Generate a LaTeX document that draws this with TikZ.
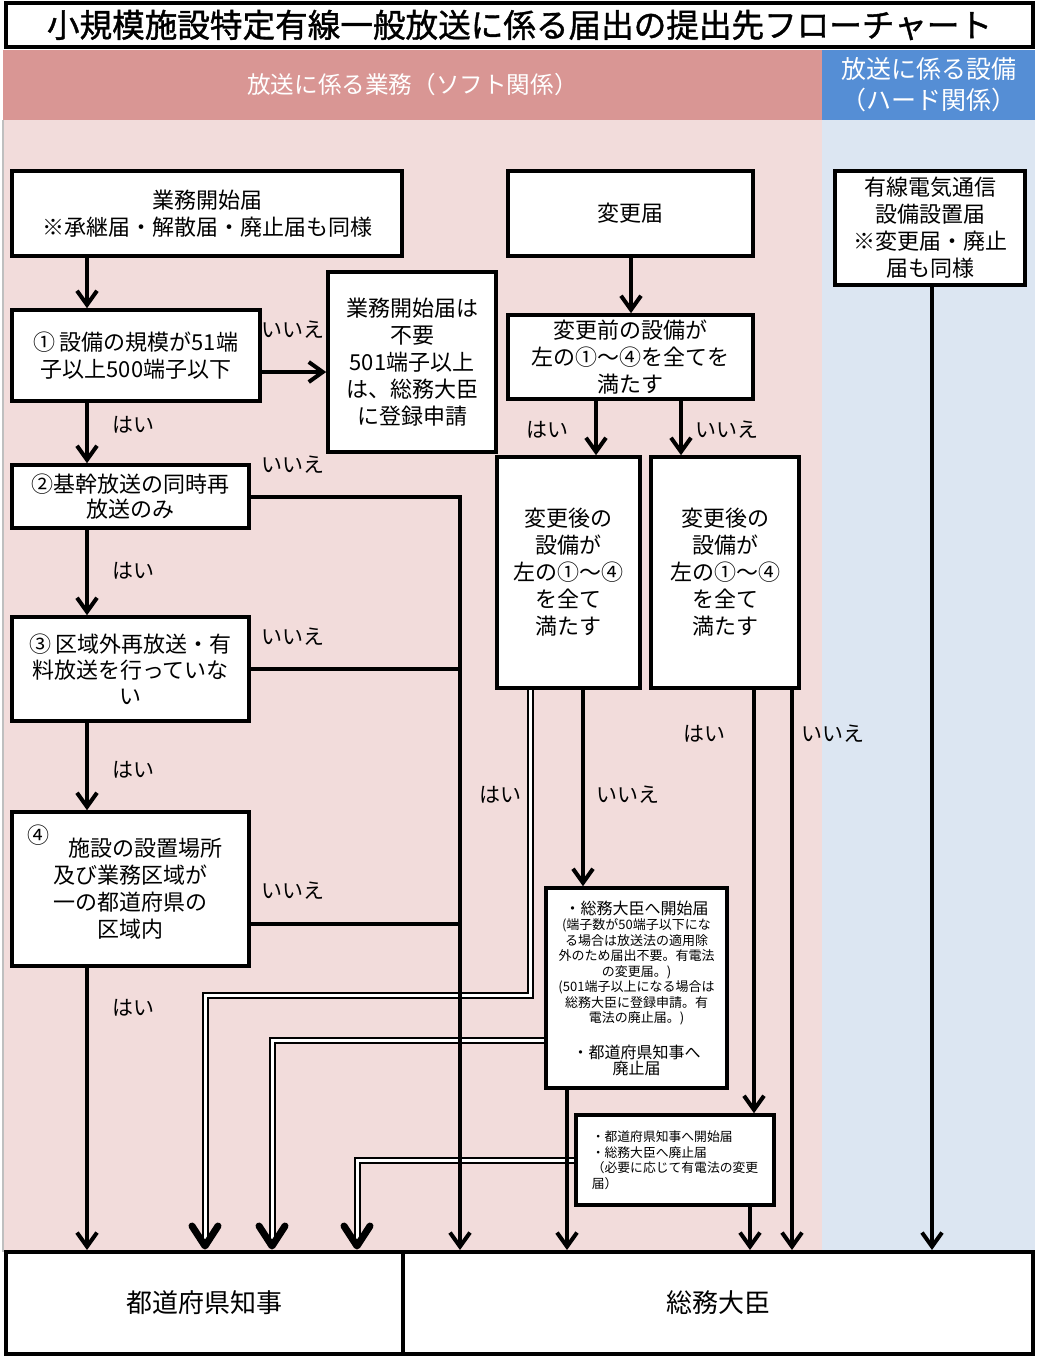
\documentclass[tikz,border=0pt]{standalone}
\usepackage{fontspec}
\setmainfont{Noto Sans CJK JP}
\newfontfamily\titlefont{Noto Sans CJK JP}[FakeBold=1.2]
\usetikzlibrary{arrows.meta,calc}
\definecolor{pinkhead}{HTML}{D99694}
\definecolor{pinkbg}{HTML}{F2DCDB}
\definecolor{bluehead}{HTML}{558ED5}
\definecolor{bluebg}{HTML}{DCE6F2}
\definecolor{edgegray}{HTML}{BFBFBF}
\tikzset{
  box/.style={draw, line width=1.8pt, fill=white, align=center, inner sep=0pt,
    font=\fontsize{11pt}{13.5pt}\selectfont},
  titlebox/.style={draw, line width=2.4pt, fill=white, inner sep=0pt,
    font=\titlefont\fontsize{16.3pt}{18pt}\selectfont},
  endbox/.style={draw, line width=2pt, fill=white, inner sep=0pt,
    font=\fontsize{13pt}{15pt}\selectfont},
  headp/.style={fill=pinkhead, inner sep=0pt, text=white, align=center,
    font=\fontsize{11.8pt}{13pt}\selectfont},
  headb/.style={fill=bluehead, inner sep=0pt, text=white, align=center,
    font=\fontsize{12.5pt}{15.5pt}\selectfont},
  conn/.style={line width=2pt},
  arr/.style={conn, -{Straight Barb[length=7pt,width=10pt,line width=2pt]}},
  dbl/.style={double=white, line width=1pt, double distance=1.5pt, line join=miter},
  bighead/.style={line width=3.5pt, line join=round, line cap=round},
  lbl/.style={inner sep=0pt, font=\fontsize{10.5pt}{12pt}\selectfont},
}
\begin{document}
\begin{tikzpicture}[x=0.5pt,y=-0.5pt]
\useasboundingbox (0,0) rectangle (1040,1360);
\fill[white] (0,0) rectangle (1040,1360);
% backgrounds
\fill[pinkbg] (3,120) rectangle (822,1252);
\fill[bluebg] (822,120) rectangle (1035,1252);
\draw[edgegray, line width=1pt] (3,120) -- (3,1252);
\node[headp, minimum width=409.5pt, minimum height=35pt] (hp) at (412.5,85) {放送に係る業務（ソフト関係）};
\node[headb, minimum width=106.5pt, minimum height=35pt] (hb) at (928.5,85) {放送に係る設備\\（ハード関係）};
\node[titlebox, minimum width=513.5pt, minimum height=22pt] (title) at (519.5,25) {小規模施設特定有線一般放送に係る届出の提出先フローチャート};

% boxes
\node[box, minimum width=195pt, minimum height=42.5pt] (A) at (207,213.5) {業務開始届\\※承継届・解散届・廃止届も同様};
\node[box, minimum width=122.5pt, minimum height=42.5pt] (B) at (630.5,213.5) {変更届};
\node[box, minimum width=95pt, minimum height=57pt] (C) at (930,228) {有線電気通信\\設備設置届\\※変更届・廃止\\届も同様};
\node[box, minimum width=124pt, minimum height=45.5pt] (Q1) at (136,355.5) {①\,設備の規模が51端\\子以上500端子以下};
\node[box, minimum width=84pt, minimum height=90pt] (N) at (412,362) {業務開始届は\\不要\\501端子以上\\は、総務大臣\\に登録申請};
\node[box, minimum width=118.5pt, minimum height=31.5pt, font=\fontsize{11pt}{12.5pt}\selectfont] (Q2) at (130.5,496.5) {②基幹放送の同時再\\放送のみ};
\node[box, minimum width=118.5pt, minimum height=52pt, font=\fontsize{11pt}{13pt}\selectfont] (Q3) at (130.5,669) {③\,区域外再放送・有\\料放送を行っていな\\い};
\node[box, minimum width=118.5pt, minimum height=77pt] (Q4) at (130.5,889) {\hspace*{15pt}施設の設置場所\\及び業務区域が\\一の都道府県の\\区域内};
\node[inner sep=0pt, font=\fontsize{11pt}{13pt}\selectfont] (q4num) at (38,835) {④};
\node[box, minimum width=122.5pt, minimum height=42pt] (D) at (630.5,357) {変更前の設備が\\左の①～④を全てを\\満たす};
\node[box, minimum width=71.5pt, minimum height=115.5pt] (E) at (568.5,572.5) {変更後の\\設備が\\左の①～④\\を全て\\満たす};
\node[box, minimum width=74pt, minimum height=115.5pt] (F) at (725,572.5) {変更後の\\設備が\\左の①～④\\を全て\\満たす};
\node[box, minimum width=90.5pt, minimum height=100pt, font=\fontsize{6.5pt}{7.75pt}\selectfont] (G) at (636.5,988)
  {{\fontsize{8pt}{9pt}\selectfont ・総務大臣へ開始届}\\(端子数が50端子以下にな\\る場合は放送法の適用除\\外のため届出不要。有電法\\の変更届。)\\(501端子以上になる場合は\\総務大臣に登録申請。有\\電法の廃止届。)\\[9pt]{\fontsize{8pt}{9pt}\selectfont ・都道府県知事へ}\\{\fontsize{8pt}{9pt}\selectfont 廃止届}};
\node[box, align=left, minimum width=99pt, minimum height=45pt, font=\fontsize{6.4pt}{7.75pt}\selectfont] (H) at (675,1160)
  {・都道府県知事へ開始届\\・総務大臣へ廃止届\\（必要に応じて有電法の変更\\届）};
\node[endbox, minimum width=198.5pt, minimum height=51pt] (Pref) at (204.5,1303) {都道府県知事};
\node[endbox, minimum width=315pt, minimum height=51pt] (Min) at (718,1303) {総務大臣};

% helper coordinates
\coordinate (x87) at (87,0);
\coordinate (x460) at (460,0);
\coordinate (x631) at (631,0);
\coordinate (x596) at (596,0);
\coordinate (x681) at (681,0);
\coordinate (x530) at (530,0);
\coordinate (x583) at (583,0);
\coordinate (x754) at (754,0);
\coordinate (x792) at (792,0);
\coordinate (x567) at (567,0);
\coordinate (x750) at (750,0);
\coordinate (x932) at (932,0);
\coordinate (x205) at (205,0);
\coordinate (x272) at (272,0);
\coordinate (x357) at (357,0);
\coordinate (y372) at (0,372);
\coordinate (y924) at (0,924);
\coordinate (y995) at (0,995);
\coordinate (y1040) at (0,1040);
\coordinate (y1160) at (0,1160);

% double connectors
\draw[dbl, shorten >=2pt] (E.south -| x530) -- (y995 -| x530) -- (y995 -| x205) -- (Pref.north -| x205);
\draw[dbl, shorten >=2pt] (G.west |- y1040) -- (y1040 -| x272) -- (Pref.north -| x272);
\draw[dbl, shorten >=2pt] (H.west |- y1160) -- (y1160 -| x357) -- (Pref.north -| x357);
\foreach \c in {x205,x272,x357}{
  \draw[bighead] ($(Pref.north -| \c)+(-13,-24)$) -- ($(Pref.north -| \c)+(0,-4)$) -- ($(Pref.north -| \c)+(13,-24)$);
}

% single connectors
\draw[arr] (A.south -| x87) -- (Q1.north -| x87);
\draw[arr] (Q1.east |- y372) -- (N.west |- y372);
\draw[arr] (Q1.south -| x87) -- (Q2.north -| x87);
\draw[arr] (Q2.south -| x87) -- (Q3.north -| x87);
\draw[arr] (Q3.south -| x87) -- (Q4.north -| x87);
\draw[arr] (Q4.south -| x87) -- (Pref.north -| x87);
\draw[arr] (Q2.east) -- (Q2.east -| x460) -- (Min.north -| x460);
\draw[conn] (Q3.east) -- (Q3.east -| x460);
\draw[conn] (Q4.east |- y924) -- (y924 -| x460);
\draw[arr] (B.south -| x631) -- (D.north -| x631);
\draw[arr] (D.south -| x596) -- (E.north -| x596);
\draw[arr] (D.south -| x681) -- (F.north -| x681);
\draw[arr] (E.south -| x583) -- (G.north -| x583);
\draw[arr] (F.south -| x754) -- (H.north -| x754);
\draw[arr] (F.south -| x792) -- (Min.north -| x792);
\draw[arr] (G.south -| x567) -- (Min.north -| x567);
\draw[arr] (H.south -| x750) -- (Min.north -| x750);
\draw[arr] (C.south -| x932) -- (Min.north -| x932);

% labels
\node[lbl] (l1) at (293,330) {いいえ};
\node[lbl] (l2) at (133,425) {はい};
\node[lbl] (l3) at (293,465) {いいえ};
\node[lbl] (l4) at (133,571) {はい};
\node[lbl] (l5) at (293,637) {いいえ};
\node[lbl] (l6) at (133,770) {はい};
\node[lbl] (l7) at (293,891) {いいえ};
\node[lbl] (l8) at (133,1008) {はい};
\node[lbl] (l9) at (547,430) {はい};
\node[lbl] (l10) at (727,430) {いいえ};
\node[lbl] (l11) at (500,795) {はい};
\node[lbl] (l12) at (628,795) {いいえ};
\node[lbl] (l13) at (704,734) {はい};
\node[lbl] (l14) at (833,734) {いいえ};
\end{tikzpicture}
\end{document}
